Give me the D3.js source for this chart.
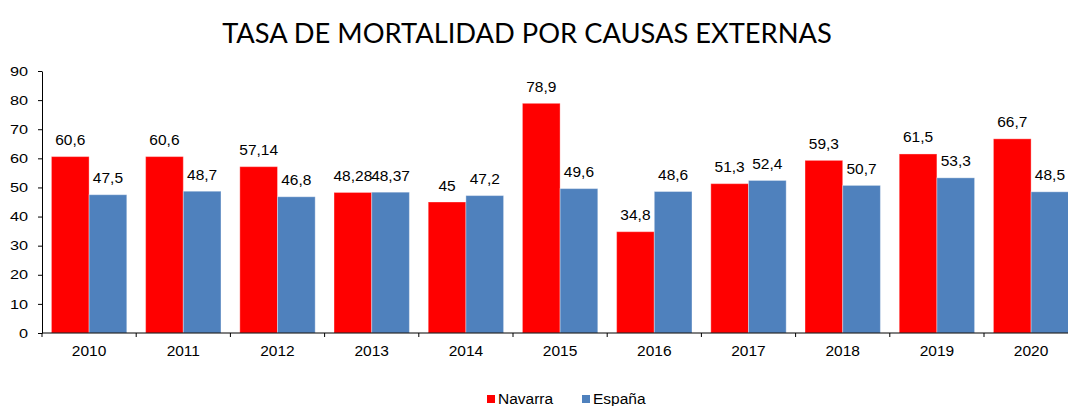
<!DOCTYPE html>
<html lang="es">
  <head>
    <meta charset="UTF-8" />
    <title>Tasa de mortalidad por causas externas</title>
    <script src="https://d3js.org/d3.v7.min.js"></script>
    <style>
      body { margin: 0; background: #fff; }
      svg { display: block; }
      .axis path, .axis line { stroke: #000; }
      .axis text { font-family: "Liberation Sans", Arial, sans-serif; fill: #000; }
    </style>
  </head>
  <body></body>
  <script type="text/javascript">
    var width = 1068,
      height = 406;

    // datos del gráfico
    var years = ['2010', '2011', '2012', '2013', '2014', '2015', '2016', '2017', '2018', '2019', '2020'];
    var navarra = [60.6, 60.6, 57.14, 48.28, 45, 78.9, 34.8, 51.3, 59.3, 61.5, 66.7];
    var espana = [47.5, 48.7, 46.8, 48.37, 47.2, 49.6, 48.6, 52.4, 50.7, 53.3, 48.5];
    var seriesNames = ['Navarra', 'España'];
    var colors = ['#ff0000', '#4f81bd'];
    var yTicks = [0, 10, 20, 30, 40, 50, 60, 70, 80, 90];

    var plotLeft = 42, plotTop = 71, plotBottom = 333;

    var svg = d3.select('body').append('svg')
      .attr('width', width)
      .attr('height', height);

    // título
    svg.append('text')
      .attr('x', 527)
      .attr('y', 43)
      .attr('text-anchor', 'middle')
      .style('font-family', 'Lato, "Open Sans", sans-serif')
      .style('font-size', '27.3px')
      .text('TASA DE MORTALIDAD POR CAUSAS EXTERNAS');

    var x0 = d3.scaleBand().domain(years).range([plotLeft, plotLeft + 11 * 94.2]).padding(0);
    var x1 = d3.scaleBand().domain(seriesNames).range([0, x0.bandwidth()])
      .paddingInner(0).paddingOuter(0.25);
    var y = d3.scaleLinear().domain([0, 90]).range([plotBottom, plotTop]);

    var rows = years.map((yr, i) => ({ year: yr, values: [navarra[i], espana[i]] }));

    var groups = svg.selectAll('g.year')
      .data(rows)
      .enter().append('g')
      .attr('class', 'year')
      .attr('transform', d => `translate(${x0(d.year)},0)`);

    groups.selectAll('rect')
      .data(d => d.values.map((v, j) => ({ name: seriesNames[j], value: v, c: colors[j] })))
      .enter().append('rect')
      .attr('x', d => x1(d.name))
      .attr('y', d => y(d.value))
      .attr('width', x1.bandwidth())
      .attr('height', d => plotBottom - y(d.value))
      .attr('fill', d => d.c)
      .attr('stroke', 'rgba(255,255,255,0.35)')
      .attr('stroke-width', 1);

    // etiquetas de valores
    groups.selectAll('text.val')
      .data(d => d.values.map((v, j) => ({ name: seriesNames[j], value: v })))
      .enter().append('text')
      .attr('class', 'val')
      .attr('x', d => x1(d.name) + x1.bandwidth() / 2)
      .attr('y', d => y(d.value) - 11.5)
      .attr('text-anchor', 'middle')
      .style('font-family', '"Liberation Sans", Arial, sans-serif')
      .style('font-size', '15.5px')
      .text(d => String(d.value).replace('.', ','));

    // eje Y (las etiquetas salen algo estiradas en horizontal)
    var sx = 1.25;
    svg.append('g')
      .attr('class', 'axis')
      .attr('transform', `translate(${plotLeft},0)`)
      .call(d3.axisLeft(y).tickValues(yTicks).tickSize(4).tickSizeOuter(0))
      .selectAll('.tick text')
      .attr('x', -14 / sx)
      .attr('transform', `scale(${sx},1)`)
      .style('font-size', '13px');

    // eje X con marcas entre categorías
    var xAxis = svg.append('g')
      .attr('class', 'axis')
      .attr('transform', `translate(0,${plotBottom})`);
    xAxis.append('line')
      .attr('x1', plotLeft).attr('x2', x0.range()[1])
      .attr('y1', 0).attr('y2', 0);
    xAxis.selectAll('line.tick')
      .data(years)
      .enter().append('line')
      .attr('class', 'tick')
      .attr('x1', d => x0(d)).attr('x2', d => x0(d))
      .attr('y1', 0).attr('y2', 4);
    xAxis.selectAll('text')
      .data(years)
      .enter().append('text')
      .attr('x', d => x0(d) + x0.bandwidth() / 2)
      .attr('y', 23)
      .attr('text-anchor', 'middle')
      .style('font-size', '15.5px')
      .text(d => d);

    // leyenda
    var legendX = [487, 582];
    var legend = svg.selectAll('g.legend')
      .data(seriesNames)
      .enter().append('g')
      .attr('class', 'legend')
      .attr('transform', (d, i) => `translate(${legendX[i]},395)`);
    legend.append('rect')
      .attr('width', 8).attr('height', 8)
      .attr('fill', (d, i) => colors[i]);
    legend.append('text')
      .attr('x', 11)
      .attr('y', 9)
      .style('font-family', '"Liberation Sans", Arial, sans-serif')
      .style('font-size', '15.5px')
      .text(d => d);
  </script>
</html>
